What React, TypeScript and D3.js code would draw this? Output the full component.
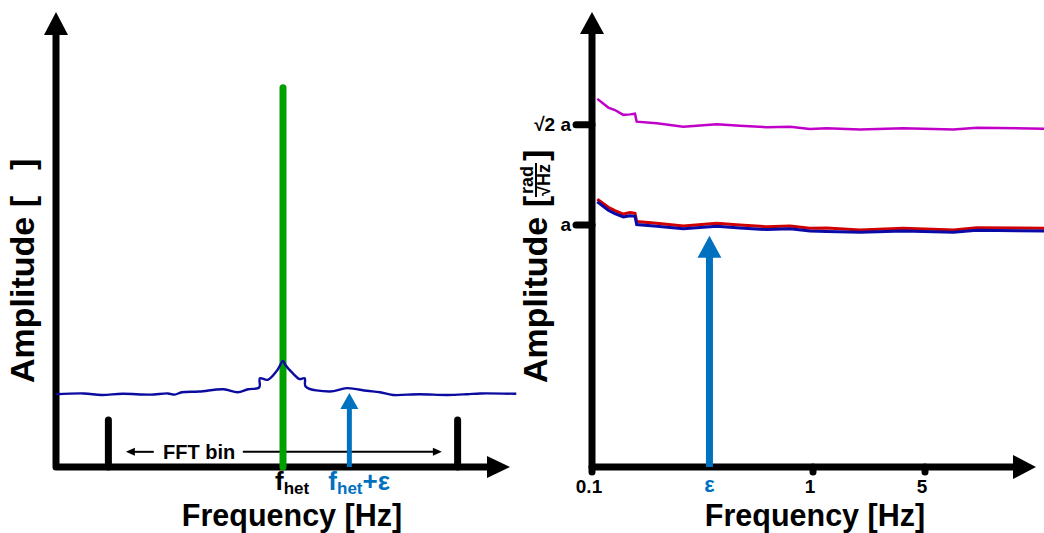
import React from "react";
import * as d3 from "d3";

// ---- left panel: spectrum around f_het (x in FFT bins relative to f_het) ----
const binEdges = [-0.5, 0.5];
const carrierAmp = 100;
const offsetBin = 0.19; // position of f_het + eps
const offsetAmp = 19.5;
const binMarkerAmp = 12.4;
const noiseBin = [
  -0.65, -0.57, -0.52, -0.46, -0.38, -0.33, -0.31, -0.29, -0.24, -0.17,
  -0.13, -0.1, -0.068, -0.066, -0.044, -0.016, 0, 0.007, 0.027, 0.047,
  0.062, 0.065, 0.134, 0.183, 0.24, 0.278, 0.315, 0.39, 0.47, 0.527,
  0.565, 0.668,
];
const noiseAmp = [
  19.2, 19.4, 19.0, 19.3, 19.1, 19.4, 19.1, 19.7, 19.9, 20.5,
  19.7, 20.5, 21.0, 23.4, 23.0, 25.6, 28.0, 26.9, 24.8, 23.2,
  23.4, 21.2, 19.9, 20.8, 20.1, 19.7, 19.0, 19.2, 19.0, 19.2,
  19.4, 19.3,
];

// ---- right panel: amplitude spectral density vs frequency ----
const rightTicks = [0.1, 1, 5];
const rightTickLabels = ["0.1", "1", "5"];
const yTicks = [1, Math.SQRT2];
const yTickLabels = ["a", "\u221A2 a"];
const epsHz = 0.34;
const epsAmp = 0.955;
const freqHz = [
  0.1057, 0.1185, 0.127, 0.1386, 0.1486, 0.1565, 0.1593, 0.1963, 0.259, 0.367,
  0.467, 0.617, 0.787, 0.969, 1.218, 1.965, 3.66, 5.9, 6.76, 10,
];
const magentaAmp = [
  1.521, 1.485, 1.475, 1.455, 1.457, 1.46, 1.427, 1.42, 1.406, 1.416,
  1.41, 1.404, 1.406, 1.397, 1.4, 1.395, 1.4, 1.395, 1.402, 1.398,
];
const redAmp = [
  1.107, 1.073, 1.059, 1.045, 1.051, 1.048, 1.014, 1.007, 0.996, 1.007,
  1.0, 0.993, 0.996, 0.987, 0.988, 0.979, 0.986, 0.979, 0.989, 0.986,
];
const blueAmp = [
  1.096, 1.061, 1.047, 1.033, 1.038, 1.036, 1.002, 0.995, 0.984, 0.995,
  0.988, 0.981, 0.984, 0.975, 0.973, 0.97, 0.975, 0.97, 0.978, 0.975,
];

const font = "'Liberation Sans', Arial, sans-serif";
const GREEN = "#00a000";
const ARROW_BLUE = "#0070c0";
const NAVY = "#0b0ba0";

const App = () => {
  const xL = d3.scaleLinear().domain([-0.65, 0.65]).range([56, 510]);
  const yL = d3.scaleLinear().domain([0, 120]).range([467, 12]);
  const xR = d3.scaleLog().domain([0.1, 1, 5, 10]).range([592, 813, 925, 1044]);
  const yR = d3.scaleLinear().domain([0, 1.88]).range([467, 12]);

  const noiseLine = d3
    .line<number>()
    .x((d, i) => xL(noiseBin[i]))
    .y((d) => yL(d))
    .curve(d3.curveCatmullRom.alpha(0.5));

  const rLine = d3
    .line<number>()
    .x((d, i) => xR(freqHz[i]))
    .y((d) => yR(d));

  const x0L = xL.range()[0];
  const x1L = xL.range()[1];
  const y0 = yL.range()[0];
  const yTop = yL.range()[1];
  const x0R = xR.range()[0];
  const tipR = 1036;

  const ax = { stroke: "#000", strokeWidth: 7, fill: "none", strokeLinejoin: "round" as const, strokeLinecap: "round" as const };

  const fftY = yL(4);
  const epsX = xL(offsetBin);
  const epsTip = yL(offsetAmp);
  const eR = xR(epsHz);
  const eTip = yR(epsAmp);

  return (
    <div style={{ position: "absolute", left: 0, top: 0 }}>
      <svg width={1044} height={533} style={{ display: "block", fontFamily: font }}>
        {/* ================= left panel ================= */}
        <path d={`M${x0L},${yTop + 18}V${y0}H${x1L - 18}`} {...ax} />
        <polygon points={`${x0L - 12},${yTop + 23} ${x0L},${yTop} ${x0L + 12},${yTop + 23}`} fill="#000" />
        <polygon points={`${x1L - 23},${y0 - 11} ${x1L},${y0} ${x1L - 23},${y0 + 11}`} fill="#000" />

        {binEdges.map((b) => (
          <line key={b} x1={xL(b)} x2={xL(b)} y1={y0} y2={yL(binMarkerAmp)} stroke="#000" strokeWidth={7} strokeLinecap="round" />
        ))}

        {/* FFT bin double arrow */}
        <line x1={xL(-0.45) + 6} x2={xL(-0.37)} y1={fftY} y2={fftY} stroke="#000" strokeWidth={2} />
        <polygon points={`${xL(-0.45)},${fftY} ${xL(-0.45) + 9},${fftY - 4} ${xL(-0.45) + 9},${fftY + 4}`} fill="#000" />
        <line x1={xL(-0.115)} x2={xL(0.455) - 6} y1={fftY} y2={fftY} stroke="#000" strokeWidth={2} />
        <polygon points={`${xL(0.455)},${fftY} ${xL(0.455) - 9},${fftY - 4} ${xL(0.455) - 9},${fftY + 4}`} fill="#000" />
        <text x={xL(-0.24)} y={fftY + 7} textAnchor="middle" fontSize={20} fontWeight="bold">FFT bin</text>

        {/* carrier */}
        <line x1={xL(0)} x2={xL(0)} y1={y0} y2={yL(carrierAmp)} stroke={GREEN} strokeWidth={7} strokeLinecap="round" />

        {/* f_het + eps arrow */}
        <line x1={epsX} x2={epsX} y1={y0} y2={epsTip + 10} stroke={ARROW_BLUE} strokeWidth={5} />
        <polygon points={`${epsX - 9},${epsTip + 16} ${epsX},${epsTip} ${epsX + 9},${epsTip + 16}`} fill={ARROW_BLUE} />

        <path d={noiseLine(noiseAmp) || ""} fill="none" stroke={NAVY} strokeWidth={2.4} />

        <text x={xL(0) - 8} y={490} fontSize={26} fontWeight="bold">
          f<tspan fontSize={17} dy={4}>het</tspan>
        </text>
        <text x={epsX - 21} y={490} fontSize={26} fontWeight="bold" fill={ARROW_BLUE}>
          f<tspan fontSize={17} dy={4}>het</tspan>
          <tspan dy={-4}>+ε</tspan>
        </text>

        <text x={292} y={526} textAnchor="middle" fontSize={30.5} fontWeight="bold">Frequency [Hz]</text>
        <g transform="translate(34,383) rotate(-90)">
          <text x={0} y={0} fontSize={34} fontWeight="bold">
            Amplitude [<tspan dx={26}>]</tspan>
          </text>
        </g>

        {/* ================= right panel ================= */}
        <path d={rLine(magentaAmp) || ""} fill="none" stroke="#c000c8" strokeWidth={2.5} />
        <path d={rLine(redAmp) || ""} fill="none" stroke="#d00000" strokeWidth={3} />
        <path d={rLine(blueAmp) || ""} fill="none" stroke="#0a0aa8" strokeWidth={3} />

        <path d={`M${x0R},${yTop + 18}V${y0}H${tipR - 18}`} {...ax} />
        <polygon points={`${x0R - 12},${yTop + 22} ${x0R},${yTop} ${x0R + 12},${yTop + 22}`} fill="#000" />
        <polygon points={`${tipR - 23},${y0 - 12} ${tipR},${y0} ${tipR - 23},${y0 + 12}`} fill="#000" />

        {rightTicks.map((t, i) => (
          <g key={t}>
            <line x1={xR(t)} x2={xR(t)} y1={y0} y2={y0 + 5} stroke="#000" strokeWidth={7} strokeLinecap="round" />
            <text x={xR(t) - 3} y={493} textAnchor="middle" fontSize={19} fontWeight="bold">{rightTickLabels[i]}</text>
          </g>
        ))}
        <text x={eR} y={492} textAnchor="middle" fontSize={22} fontWeight="bold" fill={ARROW_BLUE}>ε</text>

        {yTicks.map((t, i) => (
          <g key={t}>
            <line x1={x0R - 16} x2={x0R} y1={yR(t)} y2={yR(t)} stroke="#000" strokeWidth={7} strokeLinecap="round" />
            <text x={x0R - 21} y={yR(t) + 6} textAnchor="end" fontSize={19} fontWeight="bold">{yTickLabels[i]}</text>
          </g>
        ))}

        {/* eps arrow */}
        <line x1={eR} x2={eR} y1={y0} y2={eTip + 14} stroke={ARROW_BLUE} strokeWidth={7} />
        <polygon points={`${eR - 12},${eTip + 22} ${eR},${eTip} ${eR + 12},${eTip + 22}`} fill={ARROW_BLUE} />

        <text x={815} y={526} textAnchor="middle" fontSize={30.5} fontWeight="bold">Frequency [Hz]</text>
        <g transform="translate(547,383) rotate(-90)">
          <text x={0} y={0} fontSize={34} fontWeight="bold">Amplitude [</text>
          <text x={203} y={-14} textAnchor="middle" fontSize={18} fontWeight="bold">rad</text>
          <line x1={186} x2={220} y1={-11} y2={-11} stroke="#000" strokeWidth={2} />
          <text x={203} y={3} textAnchor="middle" fontSize={18} fontWeight="bold">√Hz</text>
          <text x={222} y={0} fontSize={34} fontWeight="bold">]</text>
        </g>
      </svg>
    </div>
  );
};

export default App;
